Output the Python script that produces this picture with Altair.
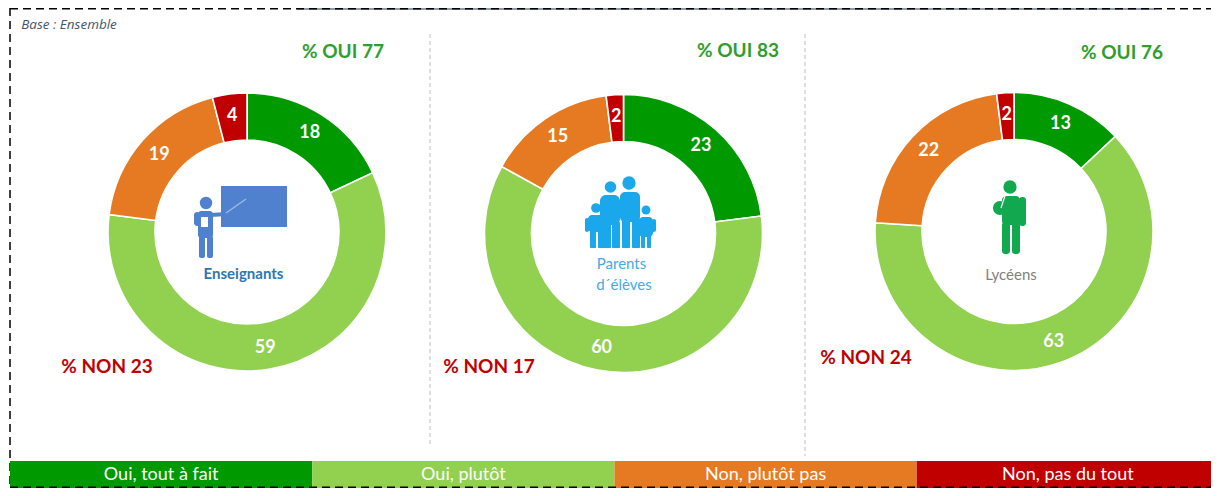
import math
import altair as alt
import pandas as pd

categories = ["Oui, tout à fait", "Oui, plutôt", "Non, plutôt pas", "Non, pas du tout"]
colors = ["#009900", "#92D050", "#E67A22", "#C00000"]
enseignants = [18, 59, 19, 4]
parents = [23, 60, 15, 2]
lyceens = [13, 63, 22, 2]
oui_labels = ["% OUI 77", "% OUI 83", "% OUI 76"]
non_labels = ["% NON 23", "% NON 17", "% NON 24"]

FONT = "Lato"
one = alt.Data(values=[{"a": 1}])


def X(p):
    return p - 8


def Y(p):
    return p - 8


def table(values):
    return pd.DataFrame({"cat": categories, "v": values, "o": [0, 1, 2, 3]})


def donut(values, cx, cy):
    base = alt.Chart(table(values)).encode(
        theta=alt.Theta("v:Q", stack=True, scale=alt.Scale(domain=[0, 100], range=[0, 2 * math.pi])),
        order=alt.Order("o:O", sort="ascending"),
        x=alt.value(X(cx)),
        y=alt.value(Y(cy)),
    )
    arc = base.mark_arc(innerRadius=92, outerRadius=139, stroke="white", strokeWidth=1.6).encode(
        color=alt.Color("cat:N", scale=alt.Scale(domain=categories, range=colors), legend=None)
    )
    txt = base.mark_text(radius=117, font=FONT, fontSize=18, fontWeight="bold", color="#FFFFFF").encode(
        text="v:Q"
    )
    return arc + txt


def label(text, cx, cy, color, size=19, weight="bold", style="normal", font=FONT):
    return alt.Chart(one).mark_text(
        text=text, font=font, fontSize=size, fontWeight=weight, fontStyle=style, color=color,
        align="center", baseline="middle",
    ).encode(x=alt.value(X(cx)), y=alt.value(Y(cy)))


def box(x0, y0, x1, y1, color, r=0):
    return alt.Chart(one).mark_rect(color=color, cornerRadius=r).encode(
        x=alt.value(X(x0)), x2=alt.value(X(x1)), y=alt.value(Y(y0)), y2=alt.value(Y(y1))
    )


def dot(x, y, r, color):
    return alt.Chart(one).mark_circle(color=color, opacity=1, size=math.pi * r * r).encode(
        x=alt.value(X(x)), y=alt.value(Y(y))
    )


def seg(x0, y0, x1, y1, color, w=1.0, dash=None):
    kw = {"strokeDash": dash} if dash else {}
    return alt.Chart(one).mark_rule(color=color, strokeWidth=w, **kw).encode(
        x=alt.value(X(x0)), x2=alt.value(X(x1)), y=alt.value(Y(y0)), y2=alt.value(Y(y1))
    )


# frame and separators
frame = [
    seg(297, 9, 1155, 9, "#1F3864", 1.2),
    seg(10, 8.8, 1219, 8.8, "#000000", 1.5, [8, 5]),
    seg(10, 8, 10, 488, "#000000", 1.5, [8, 5]),
    seg(430, 34, 430, 446, "#BFBFBF", 1, [4, 3]),
    seg(805, 34, 805, 456, "#BFBFBF", 1, [4, 3]),
]

# legend strip
strip = alt.Chart(pd.DataFrame({"cat": categories})).encode(
    x=alt.X("cat:N", axis=None, sort=categories,
            scale=alt.Scale(domain=categories, range=[X(10), X(1219)], paddingInner=0, paddingOuter=0))
)
strip_rect = strip.mark_bar(stroke=None).encode(
    y=alt.value(Y(461)), y2=alt.value(Y(494)),
    color=alt.Color("cat:N", scale=alt.Scale(domain=categories, range=colors), legend=None),
)
strip_text = strip.mark_text(font=FONT, fontSize=18, fontWeight="normal", color="#FFFFFF").encode(
    y=alt.value(Y(474.5)), text="cat:N"
)
bottom = seg(10, 487.2, 1219, 487.2, "#000000", 1.5, [8, 5])

# teacher icon
BLUE = "#4F81CF"
teacher = [
    box(221, 186, 287, 227, BLUE),
    dot(206, 203, 7, BLUE),
    box(198, 211, 213, 238, BLUE, 3),
    box(199, 236, 205, 258, BLUE, 2),
    box(207, 236, 213, 258, BLUE, 2),
    box(194, 212, 200, 226, BLUE, 3),
    seg(210, 215, 228, 214, BLUE, 4),
    seg(226, 213, 246, 199, "#9DB8E3", 1.5),
    box(201, 217, 208, 227, "#FFFFFF"),
]

# family icon
SKY = "#1AA7EC"
family = [
    dot(629, 183, 7.5, SKY),
    dot(610.5, 187, 6.5, SKY),
    dot(596, 208, 5.5, SKY),
    dot(646, 210, 5, SKY),
    box(620, 192, 640, 222, SKY, 5),
    box(622, 220, 630, 248, SKY, 1),
    box(632, 220, 640, 248, SKY, 1),
    box(600, 195, 620, 225, SKY, 6),
    box(603, 222, 611, 248, SKY, 1),
    box(612, 222, 620, 248, SKY, 1),
    box(588, 215, 605, 232, SKY, 4),
    box(590, 230, 596, 248, SKY, 1),
    box(598, 230, 604, 248, SKY, 1),
    box(585, 218, 589, 232, SKY, 2),
    box(605, 218, 609, 232, SKY, 2),
    box(639, 217, 653, 237, SKY, 4),
    box(641, 235, 645, 248, SKY, 1),
    box(647, 235, 651, 248, SKY, 1),
    box(637, 219, 641, 232, SKY, 2),
    box(652, 219, 656, 232, SKY, 2),
]

# student icon
GREEN = "#12A84F"
student = [
    dot(1000, 208, 8, GREEN),
    dot(1010, 187, 7.5, GREEN),
    box(1002, 196, 1020, 225, GREEN, 4),
    box(1002, 222, 1010, 254, GREEN, 3),
    box(1012, 222, 1020, 254, GREEN, 3),
    box(1019, 197, 1026, 226, GREEN, 3),
    seg(1005, 196, 1001, 208, "#FFFFFF", 1.2),
]

texts = [
    label("Base : Ensemble", 69, 24.5, "#44546A", 13.5, "normal", "italic", "Open Sans"),
    label(oui_labels[0], 343, 52, "#2E9E2E"),
    label(oui_labels[1], 738, 51, "#2E9E2E"),
    label(oui_labels[2], 1122, 53, "#2E9E2E"),
    label(non_labels[0], 107, 367, "#C00000"),
    label(non_labels[1], 489, 367, "#C00000"),
    label(non_labels[2], 866, 358, "#C00000"),
    label("Enseignants", 243.5, 274, "#2E75B6", 15, "bold"),
    label("Parents", 621.5, 264, "#45A9E3", 15, "normal"),
    label("d´élèves", 624, 285, "#45A9E3", 15, "normal"),
    label("Lycéens", 1011, 275, "#7F7F7F", 15, "normal"),
]

layers = (
    frame
    + [donut(enseignants, 247, 232), donut(parents, 623.5, 233.5), donut(lyceens, 1014, 231.5)]
    + teacher + family + student
    + [strip_rect, strip_text, bottom]
    + texts
)

chart = (
    alt.layer(*layers)
    .resolve_scale(theta="shared")
    .properties(width=1203, height=480, padding=0, autosize=alt.AutoSizeParams(type="none"))
    .configure_view(stroke=None)
)

chart.save("out.html", embed_options={"renderer": "svg", "actions": False})
